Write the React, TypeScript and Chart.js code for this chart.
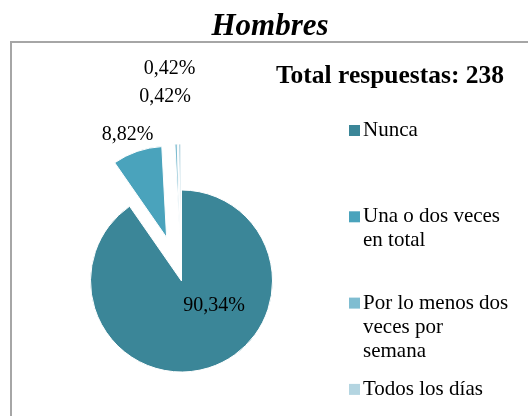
import React, { useEffect, useRef } from 'react';
import { Chart, registerables, layouts } from 'chart.js';

Chart.register(...registerables);

// ---- data ----
const categories: string[][] = [
  ['Nunca'],
  ['Una o dos veces', 'en total'],
  ['Por lo menos dos', 'veces por', 'semana'],
  ['Todos los días'],
];
const percentages: number[] = [90.34, 8.82, 0.42, 0.42];
const sliceColors: string[] = ['#3B8698', '#4AA3BC', '#7FBDD1', '#B4D5E1'];
const explodeDistances: number[] = [0, 46, 46, 46];
const chartTitle = 'Hombres';
const totalText = 'Total respuestas: 238';

const SERIF = "'Liberation Serif', 'Times New Roman', serif";

const formatPct = (v: number) => v.toFixed(2).replace('.', ',') + '%';

// label placement relative to pie centre (Excel "best fit" style)
const labelShift: [number, number][] = [
  [32.5, 25],
  [-54, -146],
  [-16.5, -184],
  [-12, -212.5],
];

const LEGEND_WIDTH = 177;

const explodePlugin = {
  id: 'explodeSlices',
  afterDatasetUpdate(chart: any, args: any) {
    if (args.index !== 0) return;
    const meta = chart.getDatasetMeta(0);
    meta.data.forEach((arc: any, i: number) => {
      const d = explodeDistances[i] || 0;
      if (!d) return;
      const mid = (arc.startAngle + arc.endAngle) / 2;
      arc.x += Math.cos(mid) * d;
      arc.y += Math.sin(mid) * d;
    });
  },
};

const frameAndTextPlugin = {
  id: 'frameAndText',
  beforeDraw(chart: any) {
    const { ctx } = chart;
    ctx.save();
    ctx.fillStyle = '#ffffff';
    ctx.fillRect(0, 0, chart.width, chart.height);
    ctx.strokeStyle = '#A6A6A6';
    ctx.lineWidth = 2;
    ctx.strokeRect(11, 42, chart.width + 10, chart.height + 10);
    ctx.restore();
  },
  afterDatasetsDraw(chart: any) {
    const { ctx, chartArea } = chart;
    const cx = (chartArea.left + chartArea.right) / 2;
    const cy = (chartArea.top + chartArea.bottom) / 2;
    ctx.save();
    ctx.fillStyle = '#000000';
    ctx.font = `20px ${SERIF}`;
    ctx.textAlign = 'center';
    ctx.textBaseline = 'middle';
    percentages.forEach((v, i) => {
      const [dx, dy] = labelShift[i];
      ctx.fillText(formatPct(v), cx + dx, cy + dy);
    });
    ctx.restore();
  },
};

const sideLegendPlugin = {
  id: 'sideLegend',
  beforeInit(chart: any) {
    const box: any = {
      position: 'right',
      weight: 100,
      fullSize: false,
      options: {},
      top: 0,
      left: 0,
      right: 0,
      bottom: 0,
      width: 0,
      height: 0,
      isHorizontal: () => false,
      update(maxWidth: number, maxHeight: number) {
        box.width = Math.min(LEGEND_WIDTH, maxWidth);
        box.height = maxHeight;
      },
      draw() {
        const ctx = chart.ctx;
        const ds = chart.data.datasets[0];
        const labels = chart.data.labels as string[][];
        ctx.save();
        // total answers heading
        ctx.fillStyle = '#000000';
        ctx.font = `bold 25.5px ${SERIF}`;
        ctx.textAlign = 'center';
        ctx.textBaseline = 'middle';
        ctx.fillText(totalText, box.left + 39, 76);
        // legend entries
        ctx.font = `21px ${SERIF}`;
        ctx.textAlign = 'left';
        const x0 = box.left - 2;
        const firstY = 130.5;
        const step = 86.3;
        labels.forEach((lines, i) => {
          const y = firstY + i * step;
          ctx.fillStyle = ds.backgroundColor[i];
          ctx.fillRect(x0, y - 5.5, 11, 11);
          ctx.fillStyle = '#000000';
          lines.forEach((line, j) => {
            ctx.fillText(line, x0 + 14, y + j * 24);
          });
        });
        ctx.restore();
      },
    };
    layouts.addBox(chart, box);
  },
};

export default function App() {
  const canvasRef = useRef<HTMLCanvasElement | null>(null);

  useEffect(() => {
    if (!canvasRef.current) return;
    const chart = new Chart(canvasRef.current, {
      type: 'pie',
      data: {
        labels: categories as any,
        datasets: [
          {
            data: percentages,
            backgroundColor: sliceColors,
            borderColor: '#ffffff',
            borderWidth: 1,
            clip: false as any,
          } as any,
        ],
      },
      options: {
        animation: false,
        responsive: true,
        maintainAspectRatio: false,
        radius: 91,
        layout: { padding: { left: 12, right: 0, top: 0, bottom: 0 } },
        plugins: {
          legend: { display: false },
          tooltip: { enabled: false },
          title: {
            display: true,
            text: chartTitle,
            color: '#000000',
            font: { family: SERIF, size: 31, weight: 'bold', style: 'italic' },
            padding: { top: 8, bottom: 100.8 },
          },
        },
      } as any,
      plugins: [explodePlugin, frameAndTextPlugin, sideLegendPlugin],
    });
    return () => chart.destroy();
  }, []);

  return (
    <div style={{ position: 'absolute', left: 0, top: 0, width: 528, height: 416 }}>
      <canvas ref={canvasRef} />
    </div>
  );
}
